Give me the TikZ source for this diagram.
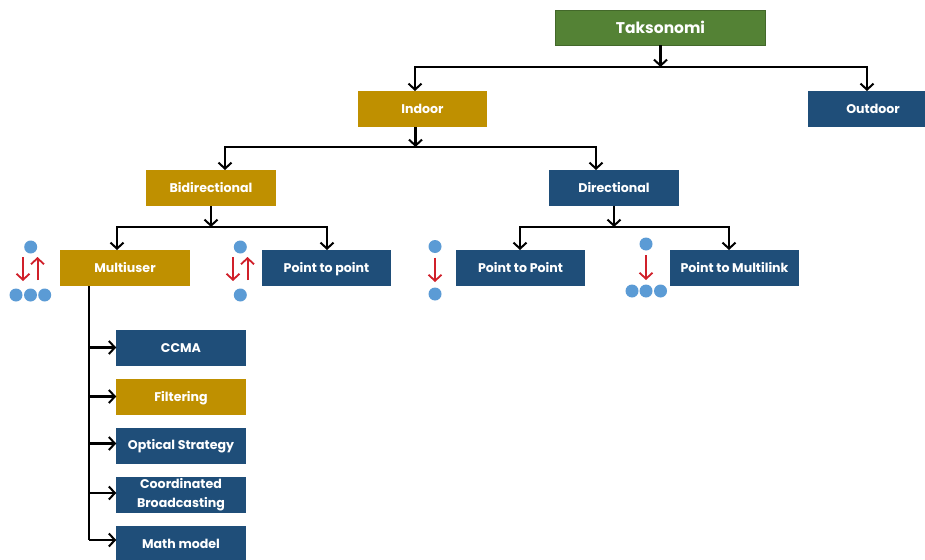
\documentclass[tikz,border=0pt]{standalone}
\usepackage{fontspec}
\setmainfont{Poppins}
\usetikzlibrary{arrows.meta,calc}
\definecolor{gold}{HTML}{BF9000}
\definecolor{navy}{HTML}{1F4E79}
\definecolor{leaf}{HTML}{548235}
\definecolor{dotblue}{HTML}{5B9BD5}
\definecolor{redarrow}{HTML}{D0202A}
\tikzset{
  x=1pt,y=-1pt,
  boxbase/.style={minimum width=129.5pt,minimum height=36pt,inner sep=0pt,outer sep=0pt,text=white,align=center,
    font=\fontsize{12.6}{19}\selectfont\bfseries,execute at begin node={\rule[-.25em]{0pt}{1.2em}}},
  bluebox/.style={boxbase,fill=navy},
  goldbox/.style={boxbase,fill=gold},
  greenbox/.style={boxbase,fill=leaf,draw=leaf!80!black,line width=.8pt,minimum width=210pt,minimum height=35pt},
  conn/.style={line width=2.3pt,black,line join=miter},
  arr/.style={conn,-{Straight Barb[length=6pt,width=13pt,line width=2pt]}},
  redarr/.style={line width=2pt,redarrow,-{Straight Barb[length=6pt,width=13pt,line width=1.8pt]}},
  netdot/.style={circle,fill=dotblue,minimum size=13pt,inner sep=0pt,outer sep=0pt},
}
\begin{document}
\begin{tikzpicture}
\clip (0,0) rectangle (925,559);
\fill[white] (0,0) rectangle (925,559);

% boxes
\node[greenbox,font=\fontsize{15.5}{18}\selectfont\bfseries] (tak) at (660.5,28) {Taksonomi};
\node[goldbox] (indoor) at (422.5,109) {Indoor};
\node[bluebox] (outdoor) at (873,109) {Outdoor};
\node[goldbox] (bidir) at (211,188) {Bidirectional};
\node[bluebox] (dir) at (614,188) {Directional};
\node[goldbox] (multi) at (125,268) {Multiuser};
\node[bluebox] (p2pa) at (326.5,268) {Point to point};
\node[bluebox] (p2pb) at (520.5,268) {Point to Point};
\node[bluebox] (p2m) at (734.5,268) {Point to Multilink};
\node[bluebox] (ccma) at (181,348) {CCMA};
\node[goldbox] (filt) at (181,397) {Filtering};
\node[bluebox] (opt) at (181,445.5) {Optical Strategy};
\node[bluebox] (coord) at (181,495) {Coordinated\\Broadcasting};
\node[bluebox] (math) at (181,544) {Math model};

% buses
\coordinate (busa) at (660.5,67);
\coordinate (busb) at (415.5,147);
\coordinate (busc) at (211,227);
\coordinate (busd) at (614,227);
\draw[arr] (tak.south) -- (busa);
\draw[arr] (busa) -| ($(indoor.north)+(-7.5,0)$);
\draw[arr] (busa) -| ($(outdoor.north)+(-6,0)$);
\draw[arr] (indoor.south -| busb) -- (busb);
\draw[arr] (busb) -| ($(bidir.north)+(14,0)$);
\draw[arr] (busb) -| ($(dir.north)+(-18,0)$);
\draw[arr] (bidir.south) -- (busc);
\draw[arr] (busc) -| ($(multi.north)+(-8,0)$);
\draw[arr] (busc) -| ($(p2pa.north)+(0.5,0)$);
\draw[arr] (dir.south) -- (busd);
\draw[arr] (busd) -| ($(p2pb.north)+(-0.5,0)$);
\draw[arr] (busd) -| ($(p2m.north)+(-5.5,0)$);

% multiuser trunk
\coordinate (trunk) at (89,286);
\draw[conn] (trunk) -- (89,540);
\draw[arr] (89,347.5) -- (ccma.west |- 0,347.5);
\draw[arr] (89,396.5) -- (filt.west |- 0,396.5);
\draw[arr] (89,443.5) -- (opt.west |- 0,443.5);
\draw[arr] (89,493) -- (coord.west |- 0,493);
\draw[arr] (89,540) -- (math.west |- 0,540);

% Multiuser icon
\node[netdot] (d1) at (30.7,247) {};
\node[netdot] (d2) at (16,295) {};
\node[netdot] (d3) at (30.5,295) {};
\node[netdot] (d4) at (44.7,295) {};
\coordinate (r1a) at (23,257); \coordinate (r1b) at (23,281);
\coordinate (r2a) at (37.5,280); \coordinate (r2b) at (37.5,257);
\draw[redarr] (r1a) -- (r1b);
\draw[redarr] (r2a) -- (r2b);

% Point to point (bidirectional) icon
\node[netdot] (d5) at (240.3,247) {};
\node[netdot] (d6) at (240.3,295) {};
\coordinate (r3a) at (233,257); \coordinate (r3b) at (233,281);
\coordinate (r4a) at (247.5,280); \coordinate (r4b) at (247.5,257);
\draw[redarr] (r3a) -- (r3b);
\draw[redarr] (r4a) -- (r4b);

% Point to Point (directional) icon
\node[netdot] (d7) at (435,246.5) {};
\node[netdot] (d8) at (435,294) {};
\coordinate (r5a) at (435,257.5); \coordinate (r5b) at (435,282);
\draw[redarr] (r5a) -- (r5b);

% Point to Multilink icon
\node[netdot] (d9) at (646,244) {};
\node[netdot] (d10) at (632,291) {};
\node[netdot] (d11) at (646,291) {};
\node[netdot] (d12) at (660.5,291) {};
\coordinate (r6a) at (646,255); \coordinate (r6b) at (646,280);
\draw[redarr] (r6a) -- (r6b);
\end{tikzpicture}
\end{document}
